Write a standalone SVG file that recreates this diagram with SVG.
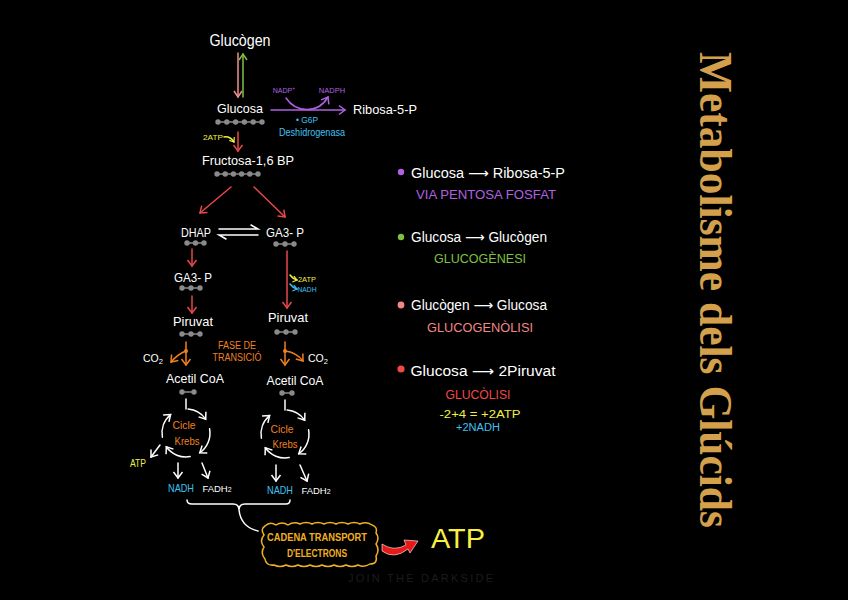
<svg xmlns="http://www.w3.org/2000/svg" width="848" height="600" viewBox="0 0 848 600">
<defs>
<style>
text{font-family:"Liberation Sans",Arial,"DejaVu Sans",sans-serif;text-anchor:middle}
.w{fill:#ffffff}
.t13{font-size:13px}
.t14{font-size:14px}
.t11{font-size:11px}
.t10{font-size:10px}
.t8{font-size:8px}
.dl{stroke:#8a8a8a;stroke-width:1.5}
.d{fill:#8a8a8a}
.ln{fill:none;stroke-width:1.5;stroke-linecap:round}
.red{stroke:#e84848}.pink{stroke:#f09090}.green{stroke:#80c040}.purple{stroke:#b060e0}
.orange{stroke:#f08020}.white{stroke:#ffffff}.yel{stroke:#f0f040}.cyan{stroke:#40c0f0}
</style>
<marker id="mRed" markerUnits="userSpaceOnUse" markerWidth="12" markerHeight="12" refX="8" refY="6" orient="auto"><path d="M2,1.5 L8,6 L2,10.5" fill="none" stroke="#e84848" stroke-width="1.5"/></marker>
<marker id="mPink" markerUnits="userSpaceOnUse" markerWidth="12" markerHeight="12" refX="8" refY="6" orient="auto"><path d="M2,2 L8,6 L2,10" fill="none" stroke="#f09090" stroke-width="1.5"/></marker>
<marker id="mGreen" markerUnits="userSpaceOnUse" markerWidth="12" markerHeight="12" refX="8" refY="6" orient="auto"><path d="M2,2 L8,6 L2,10" fill="none" stroke="#80c040" stroke-width="1.5"/></marker>
<marker id="mPurple" markerUnits="userSpaceOnUse" markerWidth="12" markerHeight="12" refX="8" refY="6" orient="auto"><path d="M2,1.5 L8,6 L2,10.5" fill="none" stroke="#b060e0" stroke-width="1.5"/></marker>
<marker id="mOrange" markerUnits="userSpaceOnUse" markerWidth="12" markerHeight="12" refX="8" refY="6" orient="auto"><path d="M2,1.5 L8,6 L2,10.5" fill="none" stroke="#f08020" stroke-width="1.5"/></marker>
<marker id="mWhite" markerUnits="userSpaceOnUse" markerWidth="12" markerHeight="12" refX="8" refY="6" orient="auto"><path d="M2,1.5 L8,6 L2,10.5" fill="none" stroke="#ffffff" stroke-width="1.5"/></marker>
<marker id="mYel" markerUnits="userSpaceOnUse" markerWidth="8" markerHeight="8" refX="5" refY="4" orient="auto"><path d="M1,1 L5,4 L1,7" fill="none" stroke="#f0f040" stroke-width="1.2"/></marker>
<marker id="mCyan" markerUnits="userSpaceOnUse" markerWidth="8" markerHeight="8" refX="5" refY="4" orient="auto"><path d="M1,1 L5,4 L1,7" fill="none" stroke="#40c0f0" stroke-width="1.2"/></marker>
</defs>
<rect width="848" height="600" fill="#000000"/>

<!-- Title -->
<text transform="translate(700,290) rotate(90)" style="font-family:'Liberation Serif','Times New Roman',serif;font-weight:bold;font-size:46px;fill:#d4a04c" textLength="476" lengthAdjust="spacingAndGlyphs">Metabolisme dels Glúcids</text>

<!-- Connectors -->
<g id="connectors">
  <line class="ln pink" x1="238" y1="53" x2="238" y2="97" marker-end="url(#mPink)"/>
  <line class="ln green" x1="243" y1="97" x2="243" y2="54" marker-end="url(#mGreen)"/>
  <line class="ln purple" x1="271" y1="110" x2="345" y2="110" marker-end="url(#mPurple)"/>
  <path class="ln purple" d="M286,98 C296,113 318,114 328,97" marker-end="url(#mPurple)"/>
  <line class="ln red" x1="238" y1="132" x2="238" y2="151" marker-end="url(#mRed)"/>
  <path class="ln yel" d="M224,137 Q230,136 234,142" stroke-width="1.2" marker-end="url(#mYel)"/>
  <line class="ln red" x1="231" y1="187" x2="200" y2="213" marker-end="url(#mRed)"/>
  <line class="ln red" x1="254" y1="187" x2="285" y2="217" marker-end="url(#mRed)"/>
  <path class="ln white" d="M219,229 L258,229 L251,225"/>
  <path class="ln white" d="M258,235 L219,235 L226,239"/>
  <line class="ln red" x1="192" y1="249" x2="192" y2="266" marker-end="url(#mRed)"/>
  <line class="ln red" x1="192" y1="296" x2="192" y2="313" marker-end="url(#mRed)"/>
  <line class="ln red" x1="287" y1="251" x2="287" y2="308" marker-end="url(#mRed)"/>
  <path class="ln yel" d="M290,275 Q293,279 297,280" stroke-width="1.2" marker-end="url(#mYel)"/>
  <path class="ln cyan" d="M290,284 Q293,288 297,289" stroke-width="1.2" marker-end="url(#mCyan)"/>
  <!-- transition -->
  <line class="ln orange" x1="186" y1="342" x2="186" y2="365" marker-end="url(#mOrange)"/>
  <circle cx="186" cy="351" r="2" fill="#f08020"/>
  <path class="ln orange" d="M186,351 Q178,354 171,362" marker-end="url(#mOrange)"/>
  <line class="ln orange" x1="285" y1="342" x2="285" y2="365" marker-end="url(#mOrange)"/>
  <circle cx="285" cy="351" r="2" fill="#f08020"/>
  <path class="ln orange" d="M285,351 Q296,352 303,361" marker-end="url(#mOrange)"/>
  <!-- Krebs left -->
  <line class="ln white" x1="186" y1="399" x2="186" y2="409"/>
  <path class="ln white" d="M188.1,409.1 A24,24 0 0 1 205.7,419.2" marker-end="url(#mWhite)"/>
  <path class="ln white" d="M209.6,428.8 A24,24 0 0 1 199.8,452.7" marker-end="url(#mWhite)"/>
  <path class="ln white" d="M190.2,456.6 A24,24 0 0 1 166.3,446.8" marker-end="url(#mWhite)"/>
  <path class="ln white" d="M162.4,437.2 A24,24 0 0 1 170.6,414.6" marker-end="url(#mWhite)"/>
  <line class="ln white" x1="160" y1="445" x2="151" y2="457" marker-end="url(#mWhite)"/>
  <line class="ln white" x1="178" y1="463" x2="178" y2="478" marker-end="url(#mWhite)"/>
  <line class="ln white" x1="202" y1="463" x2="208" y2="478" marker-end="url(#mWhite)"/>
  <!-- Krebs right -->
  <line class="ln white" x1="285" y1="400" x2="285" y2="410"/>
  <path class="ln white" d="M287.1,410.1 A24,24 0 0 1 304.7,420.2" marker-end="url(#mWhite)"/>
  <path class="ln white" d="M308.6,429.8 A24,24 0 0 1 298.8,453.7" marker-end="url(#mWhite)"/>
  <path class="ln white" d="M289.2,457.6 A24,24 0 0 1 265.3,447.8" marker-end="url(#mWhite)"/>
  <path class="ln white" d="M261.4,438.2 A24,24 0 0 1 269.6,415.6" marker-end="url(#mWhite)"/>
  <line class="ln white" x1="276" y1="465" x2="276" y2="481" marker-end="url(#mWhite)"/>
  <line class="ln white" x1="300" y1="465" x2="307" y2="481" marker-end="url(#mWhite)"/>
  <!-- bracket -->
  <path class="ln white" d="M187,500 Q187,504 192,504 L233,504 Q239,504 239,510 Q241,527 258,531 M239,510 Q239,504 245,504 L286,504 Q290,504 290,500"/>
  <!-- red arrow to ATP -->
  <path d="M382,544 Q394,552 406,545 L404,540 L418,541 L410,553 L408,549 Q394,560 382,551 Z" fill="#e81818" stroke="#ffffff" stroke-width="0.6"/>
</g>

<!-- Nodes -->
<g id="glucogen"><text class="w" x="240" y="46" style="font-size:16px" textLength="61" lengthAdjust="spacingAndGlyphs">Glucògen</text></g>

<g id="glucosa">
  <text class="w t13" x="240" y="113" textLength="46" lengthAdjust="spacingAndGlyphs">Glucosa</text>
  <line class="dl" x1="218" y1="122" x2="262" y2="122"/>
  <circle class="d" cx="218" cy="122" r="2.7"/><circle class="d" cx="226.8" cy="122" r="2.7"/><circle class="d" cx="235.6" cy="122" r="2.7"/><circle class="d" cx="244.4" cy="122" r="2.7"/><circle class="d" cx="253.2" cy="122" r="2.7"/><circle class="d" cx="262" cy="122" r="2.7"/>
</g>

<g id="ribosa"><text class="w t13" x="385" y="114" textLength="64" lengthAdjust="spacingAndGlyphs">Ribosa-5-P</text></g>

<g id="g6p">
  <text x="284" y="93" fill="#b060e0" style="font-size:7px">NADP<tspan font-size="5" dy="-3">+</tspan></text>
  <text x="332" y="93" fill="#b060e0" style="font-size:7.5px">NADPH</text>
  <text x="307" y="123" fill="#40c0f0" style="font-size:9px" textLength="22" lengthAdjust="spacingAndGlyphs">• G6P</text>
  <text x="312" y="136" fill="#40c0f0" style="font-size:10px" textLength="66" lengthAdjust="spacingAndGlyphs">Deshidrogenasa</text>
</g>

<g id="atp2a"><text class="t8" x="213" y="140" fill="#f0f040" textLength="20" lengthAdjust="spacingAndGlyphs">2ATP</text></g>

<g id="fructosa">
  <text class="w t13" x="248" y="165" textLength="92" lengthAdjust="spacingAndGlyphs">Fructosa-1,6 BP</text>
  <line class="dl" x1="217" y1="174" x2="258" y2="174"/>
  <circle class="d" cx="217" cy="174" r="2.7"/><circle class="d" cx="225.2" cy="174" r="2.7"/><circle class="d" cx="233.4" cy="174" r="2.7"/><circle class="d" cx="241.6" cy="174" r="2.7"/><circle class="d" cx="249.8" cy="174" r="2.7"/><circle class="d" cx="258" cy="174" r="2.7"/>
</g>

<g id="dhap">
  <text class="w t13" x="196" y="236.5" textLength="30" lengthAdjust="spacingAndGlyphs">DHAP</text>
  <line class="dl" x1="187" y1="243" x2="204" y2="243"/>
  <circle class="d" cx="187" cy="243" r="2.7"/><circle class="d" cx="195.5" cy="243" r="2.7"/><circle class="d" cx="204" cy="243" r="2.7"/>
</g>

<g id="ga3p-r">
  <text class="w t13" x="285" y="236.5" textLength="38" lengthAdjust="spacingAndGlyphs">GA3- P</text>
  <line class="dl" x1="276" y1="244" x2="294" y2="244"/>
  <circle class="d" cx="276" cy="244" r="2.7"/><circle class="d" cx="285" cy="244" r="2.7"/><circle class="d" cx="294" cy="244" r="2.7"/>
</g>

<g id="ga3p-l">
  <text class="w t13" x="193" y="281.5" textLength="38" lengthAdjust="spacingAndGlyphs">GA3- P</text>
  <line class="dl" x1="182" y1="288" x2="200" y2="288"/>
  <circle class="d" cx="182" cy="288" r="2.7"/><circle class="d" cx="191" cy="288" r="2.7"/><circle class="d" cx="200" cy="288" r="2.7"/>
</g>

<g id="atp-nadh-r">
  <text x="307" y="282" fill="#f0f040" style="font-size:7px" textLength="18" lengthAdjust="spacingAndGlyphs">2ATP</text>
  <text x="307" y="291.5" fill="#40c0f0" style="font-size:7px" textLength="19" lengthAdjust="spacingAndGlyphs">NADH</text>
</g>

<g id="piruvat-l">
  <text class="w t13" x="193" y="325.5" textLength="40" lengthAdjust="spacingAndGlyphs">Piruvat</text>
  <line class="dl" x1="182" y1="334" x2="200" y2="334"/>
  <circle class="d" cx="182" cy="334" r="2.7"/><circle class="d" cx="191" cy="334" r="2.7"/><circle class="d" cx="200" cy="334" r="2.7"/>
</g>

<g id="piruvat-r">
  <text class="w t13" x="288" y="321.5" textLength="40" lengthAdjust="spacingAndGlyphs">Piruvat</text>
  <line class="dl" x1="277" y1="332" x2="295" y2="332"/>
  <circle class="d" cx="277" cy="332" r="2.7"/><circle class="d" cx="286" cy="332" r="2.7"/><circle class="d" cx="295" cy="332" r="2.7"/>
</g>

<g id="transicio">
  <text class="t10" x="237" y="348.5" fill="#f08020" textLength="38" lengthAdjust="spacingAndGlyphs">FASE DE</text>
  <text class="t10" x="237" y="360.5" fill="#f08020" textLength="49" lengthAdjust="spacingAndGlyphs">TRANSICIÓ</text>
</g>

<g id="co2-l"><text class="w" x="153" y="362" style="font-size:10.5px">CO<tspan font-size="7.5" dy="2">2</tspan></text></g>
<g id="co2-r"><text class="w" x="318" y="362" style="font-size:10.5px">CO<tspan font-size="7.5" dy="2">2</tspan></text></g>

<g id="acetil-l">
  <text class="w t13" x="195" y="383" textLength="58" lengthAdjust="spacingAndGlyphs">Acetil CoA</text>
  <line class="dl" x1="182" y1="392" x2="194" y2="392"/>
  <circle class="d" cx="182" cy="392" r="2.7"/><circle class="d" cx="194" cy="392" r="2.7"/>
</g>
<g id="acetil-r">
  <text class="w t13" x="295" y="385" textLength="57" lengthAdjust="spacingAndGlyphs">Acetil CoA</text>
  <line class="dl" x1="282" y1="393" x2="292" y2="393"/>
  <circle class="d" cx="282" cy="393" r="2.7"/><circle class="d" cx="292" cy="393" r="2.7"/>
</g>

<g id="krebs-l">
  <text class="t11" x="184" y="429" fill="#f08020" textLength="23" lengthAdjust="spacingAndGlyphs">Cicle</text>
  <text class="t11" x="187" y="445" fill="#f08020" textLength="25" lengthAdjust="spacingAndGlyphs">Krebs</text>
</g>
<g id="krebs-r">
  <text class="t11" x="282" y="433" fill="#f08020" textLength="23" lengthAdjust="spacingAndGlyphs">Cicle</text>
  <text class="t11" x="285" y="448" fill="#f08020" textLength="25" lengthAdjust="spacingAndGlyphs">Krebs</text>
</g>

<g id="atp-small"><text class="t10" x="138" y="467" fill="#f0f040" textLength="16" lengthAdjust="spacingAndGlyphs">ATP</text></g>

<g id="nadh-l"><text class="t11" x="181" y="492" fill="#40c0f0" textLength="26" lengthAdjust="spacingAndGlyphs">NADH</text></g>
<g id="fadh-l"><text class="w" x="217" y="492" style="font-size:9.5px">FADH<tspan font-size="7">2</tspan></text></g>
<g id="nadh-r"><text class="t11" x="280" y="494" fill="#40c0f0" textLength="26" lengthAdjust="spacingAndGlyphs">NADH</text></g>
<g id="fadh-r"><text class="w" x="316" y="494" style="font-size:9.5px">FADH<tspan font-size="7">2</tspan></text></g>

<g id="cadena">
  <path d="M265,526 Q270,521 276,525 Q282,521 288,525 Q294,521 300,524 Q306,521 312,524 Q318,521 324,524 Q330,521 336,524 Q342,521 348,524 Q354,521 360,524 Q366,521 372,525 Q378,527 376,533 Q380,538 376,544 Q380,550 376,556 Q378,564 370,564 Q364,568 358,565 Q352,568 346,565 Q340,568 334,565 Q328,568 322,565 Q316,568 310,565 Q304,568 298,565 Q292,568 286,565 Q280,568 274,565 Q266,566 265,559 Q260,553 264,547 Q259,541 264,535 Q260,529 265,526 Z" fill="none" stroke="#f0b020" stroke-width="1.5"/>
  <text x="317" y="540.5" fill="#f0b020" style="font-size:10px;font-weight:bold" textLength="100" lengthAdjust="spacingAndGlyphs">CADENA TRANSPORT</text>
  <text x="317" y="557" fill="#f0b020" style="font-size:10px;font-weight:bold" textLength="60" lengthAdjust="spacingAndGlyphs">D'ELECTRONS</text>
</g>

<g id="atp-big"><text x="458" y="548" fill="#f8f040" style="font-size:28px" textLength="54" lengthAdjust="spacingAndGlyphs">ATP</text></g>

<g id="watermark"><text x="424" y="582" fill="#1c1c1c" style="font-size:11px;letter-spacing:7px" textLength="152" lengthAdjust="spacing">JOIN THE DARKSIDE</text></g>

<!-- Legend -->
<g id="leg-pentosa">
  <circle cx="401" cy="172" r="3.2" fill="#b060e0"/>
  <text class="w t14" x="488" y="177.5" textLength="154" lengthAdjust="spacingAndGlyphs">Glucosa ⟶ Ribosa-5-P</text>
  <text class="t13" x="486" y="199" fill="#b060e0" textLength="140" lengthAdjust="spacingAndGlyphs">VIA PENTOSA FOSFAT</text>
</g>
<g id="leg-glucogenesi">
  <circle cx="401" cy="237" r="3.2" fill="#80c040"/>
  <text class="w t14" x="479" y="242" textLength="136" lengthAdjust="spacingAndGlyphs">Glucosa ⟶ Glucògen</text>
  <text class="t13" x="480" y="263" fill="#80c040" textLength="92" lengthAdjust="spacingAndGlyphs">GLUCOGÈNESI</text>
</g>
<g id="leg-glucogenolisi">
  <circle cx="401" cy="305" r="3.4" fill="#f08888"/>
  <text class="w t14" x="479" y="309.5" textLength="136" lengthAdjust="spacingAndGlyphs">Glucògen ⟶ Glucosa</text>
  <text class="t13" x="480" y="331.5" fill="#f08888" textLength="106" lengthAdjust="spacingAndGlyphs">GLUCOGENÒLISI</text>
</g>
<g id="leg-glucolisi">
  <circle cx="401" cy="369" r="3.6" fill="#f04848"/>
  <text class="w t14" x="483" y="375.5" textLength="145" lengthAdjust="spacingAndGlyphs">Glucosa ⟶ 2Piruvat</text>
  <text class="t13" x="478" y="398.5" fill="#f04848" textLength="65" lengthAdjust="spacingAndGlyphs">GLUCÒLISI</text>
  <text class="t10" x="480" y="417.5" fill="#f0f040" textLength="81" lengthAdjust="spacingAndGlyphs">-2+4 = +2ATP</text>
  <text class="t10" x="478" y="431" fill="#40c0f0" textLength="44" lengthAdjust="spacingAndGlyphs">+2NADH</text>
</g>
</svg>
